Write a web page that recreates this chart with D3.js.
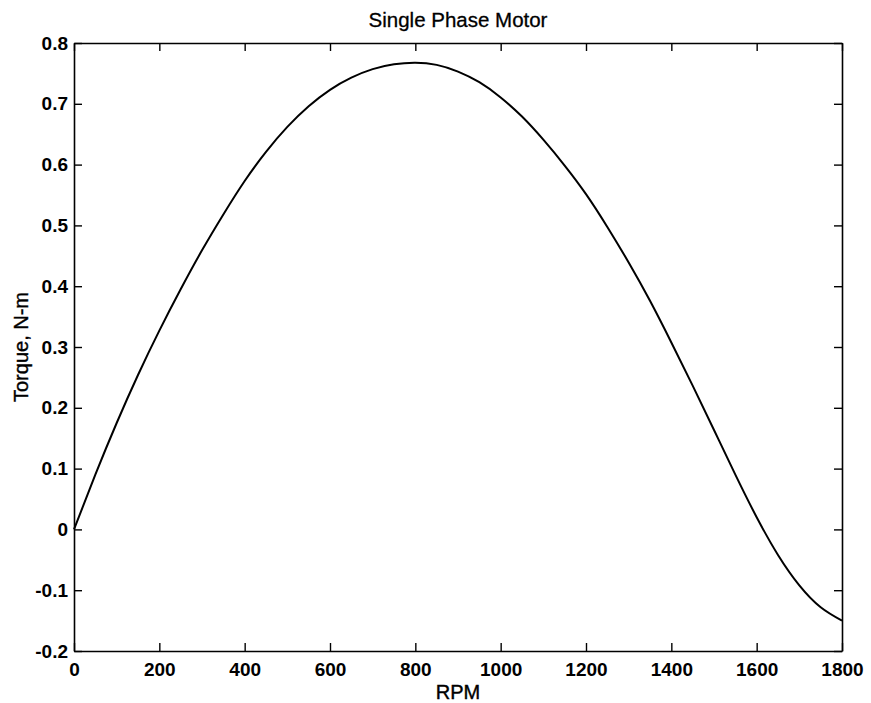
<!DOCTYPE html>
<html>
<head>
<meta charset="utf-8">
<script src="https://cdn.jsdelivr.net/npm/d3@7"></script>
<style>
  html, body { margin: 0; padding: 0; background: #fff; }
  svg { display: block; }
</style>
</head>
<body>
<svg id="chart" width="871" height="703"></svg>
<script>
// ---- data ----
const rpm = [0, 50, 100, 150, 200, 250, 300, 350, 400, 450, 500, 550, 600, 650, 700, 750, 800, 850, 900,
             950, 1000, 1050, 1100, 1150, 1200, 1250, 1300, 1350, 1400, 1450, 1500, 1550, 1600, 1650, 1700, 1750, 1800];
const torque = [0, 0.090, 0.175, 0.254, 0.327, 0.395, 0.459, 0.518, 0.573, 0.621, 0.662, 0.696, 0.723, 0.743,
                0.757, 0.765, 0.7675, 0.764, 0.753, 0.7355, 0.7105, 0.679, 0.641, 0.5985, 0.5515, 0.4975, 0.439,
                0.376, 0.3075, 0.2365, 0.1635, 0.090, 0.020, -0.042, -0.092, -0.128, -0.150];
const xTicks = [0, 200, 400, 600, 800, 1000, 1200, 1400, 1600, 1800];
const xTickLabels = ["0", "200", "400", "600", "800", "1000", "1200", "1400", "1600", "1800"];
const yTicks = [-0.2, -0.1, 0, 0.1, 0.2, 0.3, 0.4, 0.5, 0.6, 0.7, 0.8];
const yTickLabels = ["-0.2", "-0.1", "0", "0.1", "0.2", "0.3", "0.4", "0.5", "0.6", "0.7", "0.8"];
const titleText = "Single Phase Motor";
const xLabelText = "RPM";
const yLabelText = "Torque, N-m";

// ---- layout ----
const L = 74, R = 842, T = 43, B = 651;
const svg = d3.select("#chart");
const font = "'Liberation Sans', Arial, Helvetica, sans-serif";

const x = d3.scaleLinear().domain([0, 1800]).range([L, R]);
const y = d3.scaleLinear().domain([-0.2, 0.8]).range([B, T]);

const xFmt = (d) => xTickLabels[xTicks.indexOf(d)];
const yFmt = (d) => yTickLabels[yTicks.findIndex(v => Math.abs(v - d) < 1e-9)];

function styleAxis(g, showLabels) {
  g.select(".domain").attr("stroke", "#000").attr("stroke-width", 1.6);
  g.selectAll(".tick line").attr("stroke", "#000").attr("stroke-width", 1.4);
  g.selectAll(".tick text")
    .attr("fill", "#000")
    .style("font-family", font)
    .style("font-size", "19px")
    .style("font-weight", "bold");
  if (!showLabels) g.selectAll(".tick text").remove();
}

// bottom
svg.append("g").attr("transform", `translate(0,${B})`)
  .call(d3.axisBottom(x).tickValues(xTicks).tickFormat(xFmt).tickSizeInner(-8).tickSizeOuter(0).tickPadding(12))
  .call(g => styleAxis(g, true));
// top
svg.append("g").attr("transform", `translate(0,${T})`)
  .call(d3.axisTop(x).tickValues(xTicks).tickFormat(() => "").tickSizeInner(-8).tickSizeOuter(0))
  .call(g => styleAxis(g, false));
// left
svg.append("g").attr("transform", `translate(${L},0)`)
  .call(d3.axisLeft(y).tickValues(yTicks).tickFormat(yFmt).tickSizeInner(-8).tickSizeOuter(0).tickPadding(6))
  .call(g => styleAxis(g, true));
// right
svg.append("g").attr("transform", `translate(${R},0)`)
  .call(d3.axisRight(y).tickValues(yTicks).tickFormat(() => "").tickSizeInner(-8).tickSizeOuter(0))
  .call(g => styleAxis(g, false));

// curve
const pts = rpm.map((r, i) => [r, torque[i]]);
svg.append("path")
  .datum(pts)
  .attr("fill", "none")
  .attr("stroke", "#000")
  .attr("stroke-width", 2)
  .attr("stroke-linejoin", "round")
  .attr("d", d3.line().x(d => x(d[0])).y(d => y(d[1])).curve(d3.curveNatural));

// title and labels
svg.append("text")
  .attr("x", (L + R) / 2).attr("y", 27)
  .attr("text-anchor", "middle")
  .style("font-family", font).style("font-size", "20.5px")
  .attr("stroke", "#000").attr("stroke-width", 0.3)
  .text(titleText);

svg.append("text")
  .attr("x", (L + R) / 2).attr("y", 699)
  .attr("text-anchor", "middle")
  .style("font-family", font).style("font-size", "20px")
  .attr("stroke", "#000").attr("stroke-width", 0.4)
  .text(xLabelText);

svg.append("text")
  .attr("transform", `translate(28,${(T + B) / 2}) rotate(-90)`)
  .attr("text-anchor", "middle")
  .style("font-family", font).style("font-size", "20px")
  .attr("stroke", "#000").attr("stroke-width", 0.4)
  .text(yLabelText);
</script>
</body>
</html>
